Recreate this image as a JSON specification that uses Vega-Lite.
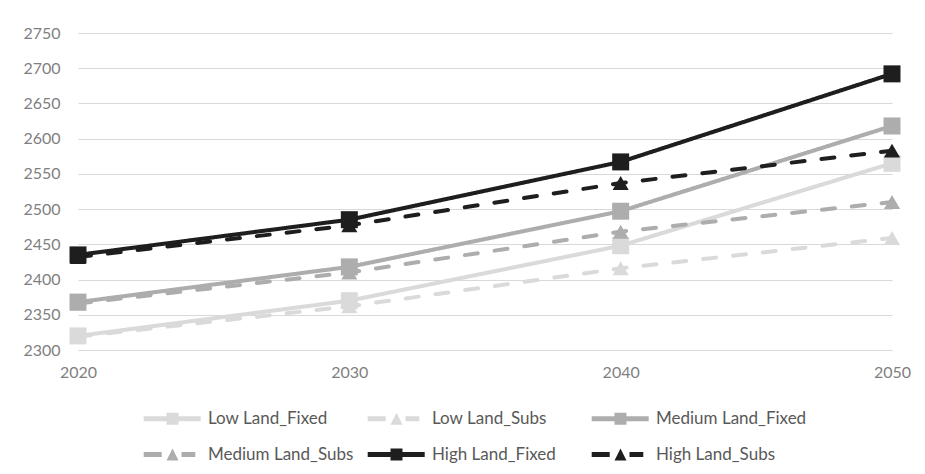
{
  "$schema": "https://vega.github.io/schema/vega-lite/v6.json",
  "width": 814,
  "height": 317,
  "autosize": "none",
  "padding": {"left": 78, "top": 33, "right": 33, "bottom": 124},
  "background": "white",
  "config": {
    "view": {"stroke": null},
    "font": "Lato",
    "axis": {"labelFont": "Lato", "labelFontSize": 16, "labelColor": "#7f7f7f", "ticks": false, "domain": false, "title": null, "gridColor": "#d9d9d9", "gridWidth": 1}
  },
  "data": {
    "values": [
      {"year": "2020", "series": "Low Land_Fixed", "scenario": "Fixed", "value": 2320},
      {"year": "2030", "series": "Low Land_Fixed", "scenario": "Fixed", "value": 2370},
      {"year": "2040", "series": "Low Land_Fixed", "scenario": "Fixed", "value": 2448},
      {"year": "2050", "series": "Low Land_Fixed", "scenario": "Fixed", "value": 2565},
      {"year": "2020", "series": "Low Land_Subs", "scenario": "Subs", "value": 2319},
      {"year": "2030", "series": "Low Land_Subs", "scenario": "Subs", "value": 2362},
      {"year": "2040", "series": "Low Land_Subs", "scenario": "Subs", "value": 2416},
      {"year": "2050", "series": "Low Land_Subs", "scenario": "Subs", "value": 2459},
      {"year": "2020", "series": "Medium Land_Fixed", "scenario": "Fixed", "value": 2368},
      {"year": "2030", "series": "Medium Land_Fixed", "scenario": "Fixed", "value": 2418},
      {"year": "2040", "series": "Medium Land_Fixed", "scenario": "Fixed", "value": 2497},
      {"year": "2050", "series": "Medium Land_Fixed", "scenario": "Fixed", "value": 2618},
      {"year": "2020", "series": "Medium Land_Subs", "scenario": "Subs", "value": 2366},
      {"year": "2030", "series": "Medium Land_Subs", "scenario": "Subs", "value": 2410},
      {"year": "2040", "series": "Medium Land_Subs", "scenario": "Subs", "value": 2468},
      {"year": "2050", "series": "Medium Land_Subs", "scenario": "Subs", "value": 2510},
      {"year": "2020", "series": "High Land_Fixed", "scenario": "Fixed", "value": 2435},
      {"year": "2030", "series": "High Land_Fixed", "scenario": "Fixed", "value": 2485},
      {"year": "2040", "series": "High Land_Fixed", "scenario": "Fixed", "value": 2567},
      {"year": "2050", "series": "High Land_Fixed", "scenario": "Fixed", "value": 2692},
      {"year": "2020", "series": "High Land_Subs", "scenario": "Subs", "value": 2432},
      {"year": "2030", "series": "High Land_Subs", "scenario": "Subs", "value": 2477},
      {"year": "2040", "series": "High Land_Subs", "scenario": "Subs", "value": 2537},
      {"year": "2050", "series": "High Land_Subs", "scenario": "Subs", "value": 2583}
    ]
  },
  "encoding": {
    "x": {"field": "year", "type": "ordinal", "scale": {"type": "point", "padding": 0}, "axis": {"labelAngle": 0, "labelPadding": 14, "grid": false}},
    "y": {"field": "value", "type": "quantitative", "scale": {"domain": [2300, 2750], "nice": false, "zero": false}, "axis": {"values": [2300, 2350, 2400, 2450, 2500, 2550, 2600, 2650, 2700, 2750], "format": "d", "labelPadding": 18}},
    "color": {"field": "series", "type": "nominal", "scale": {"domain": ["Low Land_Fixed", "Low Land_Subs", "Medium Land_Fixed", "Medium Land_Subs", "High Land_Fixed", "High Land_Subs"], "range": ["#dadada", "#dadada", "#adadad", "#adadad", "#1e1e1e", "#1e1e1e"]}}
  },
  "layer": [
    {
      "mark": {"type": "line", "strokeWidth": 4, "strokeCap": "round"},
      "encoding": {
        "strokeDash": {"field": "scenario", "type": "nominal", "scale": {"domain": ["Fixed", "Subs"], "range": [[1, 0], [13, 17]]}, "legend": null}
      }
    },
    {
      "transform": [{"filter": "datum.scenario === 'Fixed'"}],
      "mark": {"type": "point", "shape": "square", "size": 289, "filled": true, "opacity": 1}
    },
    {
      "transform": [{"filter": "datum.scenario === 'Subs'"}],
      "mark": {"type": "point", "shape": "triangle-up", "size": 260, "filled": true, "opacity": 1}
    },
    {
      "transform": [{"filter": "datum.value < 0"}],
      "mark": {"type": "point", "filled": true, "size": 144},
      "encoding": {
        "color": {"field": "series", "type": "nominal", "legend": {"title": null, "orient": "none", "legendX": 86, "legendY": 377, "direction": "horizontal", "columns": 3, "gridAlign": "all", "columnPadding": 8, "rowPadding": 18, "symbolSize": 144, "symbolStrokeWidth": 0, "symbolOpacity": 1, "labelFontSize": 17, "labelColor": "#595959", "labelFont": "Lato", "labelOffset": 27, "labelLimit": 300}},
        "shape": {"field": "series", "type": "nominal", "scale": {"domain": ["Low Land_Fixed", "Low Land_Subs", "Medium Land_Fixed", "Medium Land_Subs", "High Land_Fixed", "High Land_Subs"], "range": ["M-4.8,-0.4H4.7V0.4H-4.8Z M-1,-1H1V1H-1Z", "M-4.8,-0.4H-1.8V0.4H-4.8Z M1.5,-0.4H3.8V0.4H1.5Z M0,-1L1,1L-1,1Z", "M-4.8,-0.4H4.7V0.4H-4.8Z M-1,-1H1V1H-1Z", "M-4.8,-0.4H-1.8V0.4H-4.8Z M1.5,-0.4H3.8V0.4H1.5Z M0,-1L1,1L-1,1Z", "M-4.8,-0.4H4.7V0.4H-4.8Z M-1,-1H1V1H-1Z", "M-4.8,-0.4H-1.8V0.4H-4.8Z M1.5,-0.4H3.8V0.4H1.5Z M0,-1L1,1L-1,1Z"]}, "legend": {"title": null, "orient": "none", "legendX": 86, "legendY": 377, "direction": "horizontal", "columns": 3, "gridAlign": "all", "columnPadding": 8, "rowPadding": 18, "symbolSize": 144, "symbolStrokeWidth": 0, "symbolOpacity": 1, "labelFontSize": 17, "labelColor": "#595959", "labelFont": "Lato", "labelOffset": 27, "labelLimit": 300}}
      }
    }
  ]
}
